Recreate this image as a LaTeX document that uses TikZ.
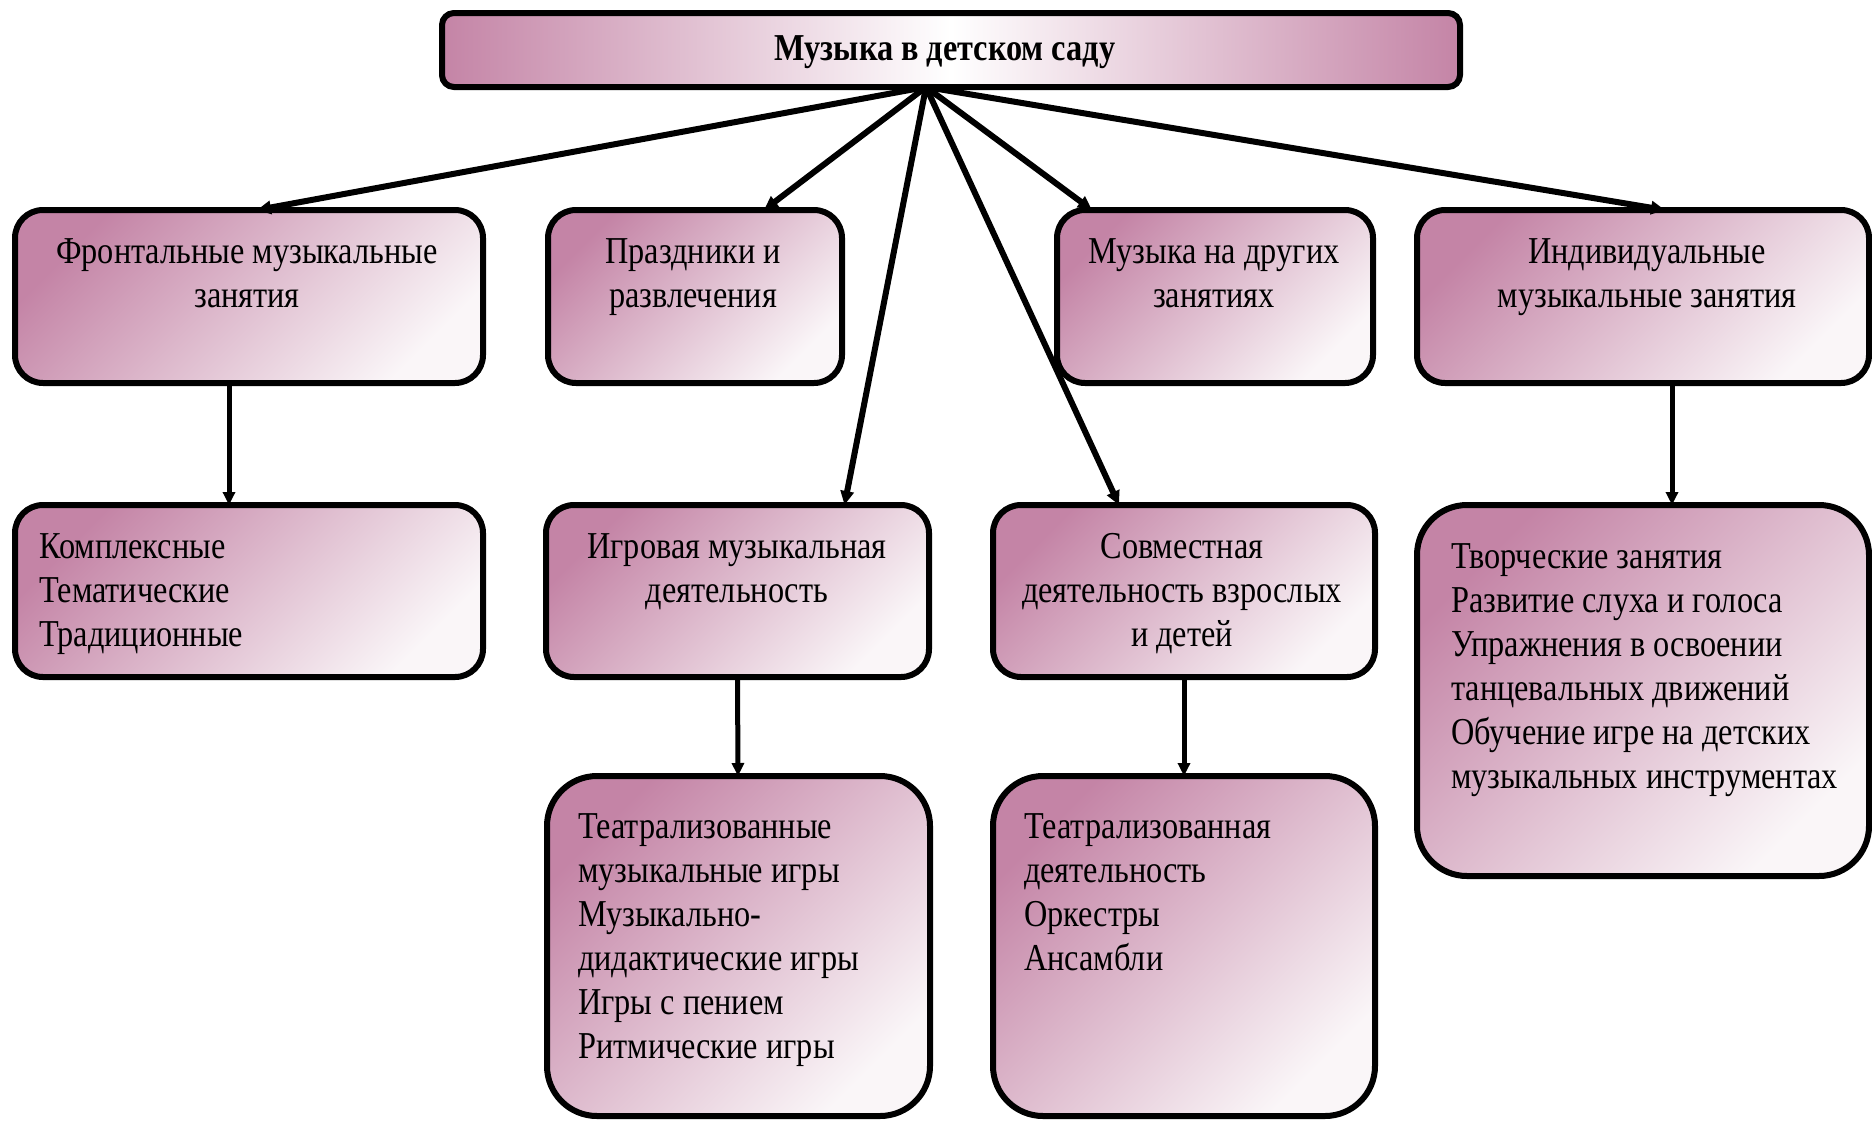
\documentclass[tikz,border=0pt]{standalone}
\usepackage{fontspec}
\setmainfont{Liberation Serif}[FakeStretch=0.85]
\usetikzlibrary{arrows.meta}
\definecolor{pinkc}{RGB}{196,132,166}
\definecolor{endc}{RGB}{250,246,248}
\tikzset{
  box/.style={draw=black, line width=6pt, rounded corners=28pt, top color=pinkc, bottom color=endc, shading angle=45, inner sep=0pt, outer sep=0pt},
  bigbox/.style={box, rounded corners=50pt},
  titlebox/.style={draw=black, line width=6pt, rounded corners=12pt, left color=pinkc, right color=pinkc, middle color=white, inner sep=0pt, outer sep=0pt},
  txt/.style={font=\fontsize{38}{44}\selectfont, inner sep=0pt, align=center},
  ltxt/.style={font=\fontsize{38}{44}\selectfont, inner sep=0pt, align=left, anchor=west},
  arr/.style={line width=6pt, -{Triangle[length=14pt,width=13pt]}},
  varr/.style={line width=5pt, -{Triangle[length=13pt,width=12pt]}}
}
\begin{document}
\begin{tikzpicture}[x=1pt,y=-1pt]
\useasboundingbox[fill=white] (0,0) rectangle (1872,1120);
% boxes
\node[titlebox, minimum width=1018pt, minimum height=74pt] (T) at (951,50) {};
\node[box, minimum width=468pt, minimum height=173pt] (A) at (249,296.5) {};
\node[box, minimum width=294pt, minimum height=173pt] (B) at (695,296.5) {};
\node[box, minimum width=316pt, minimum height=173pt] (C) at (1215,296.5) {};
\node[box, minimum width=452pt, minimum height=173pt] (D) at (1643,296.5) {};
\node[box, minimum width=468pt, minimum height=172pt] (E) at (249,591) {};
\node[box, minimum width=383pt, minimum height=172pt] (F) at (737.5,591) {};
\node[box, minimum width=382pt, minimum height=172pt] (G) at (1184,591) {};
\node[bigbox, minimum width=452pt, minimum height=371pt] (H) at (1643,690.5) {};
\node[bigbox, minimum width=383pt, minimum height=340pt] (I) at (738.5,946) {};
\node[bigbox, minimum width=382pt, minimum height=340pt] (J) at (1184,946) {};
% texts
\node[txt, font=\fontsize{38}{44}\selectfont\bfseries] (tT) at (945,52) {Музыка в детском саду};
\node[txt] (tA) at (247,273) {Фронтальные музыкальные\\занятия};
\node[txt] (tB) at (693,277) {Праздники и\\развлечения};
\node[txt] (tC) at (1214,273) {Музыка на других\\занятиях};
\node[txt] (tD) at (1647,277) {Индивидуальные\\музыкальные занятия};
\node[ltxt] (tE) at (39,594) {Комплексные\\Тематические\\Традиционные};
\node[txt] (tF) at (737,572) {Игровая музыкальная\\деятельность};
\node[txt] (tG) at (1182,594) {Совместная\\деятельность взрослых\\и детей};
\node[ltxt] (tH) at (1451,670) {Творческие занятия\\Развитие слуха и голоса\\Упражнения в освоении\\танцевальных движений\\Обучение игре на детских\\музыкальных инструментах};
\node[ltxt] (tI) at (578,940) {Театрализованные\\музыкальные игры\\Музыкально-\\дидактические игры\\Игры с пением\\Ритмические игры};
\node[ltxt] (tJ) at (1024,892) {Театрализованная\\деятельность\\Оркестры\\Ансамбли};
% connectors
\coordinate (hub) at ([xshift=-25pt]T.south);
\draw[arr] (hub) -- ([xshift=8pt]A.north);
\draw[arr] (hub) -- ([xshift=69pt]B.north);
\draw[arr] (hub) -- ([xshift=107pt]F.north);
\draw[arr] (hub) -- ([xshift=-65pt]G.north);
\draw[arr] (hub) -- ([xshift=-123pt]C.north);
\draw[arr] (hub) -- ([xshift=22pt]D.north);
\draw[varr] ([xshift=-20pt]A.south) -- ([xshift=-20pt]E.north);
\draw[varr] (F.south) -- ([xshift=-0.5pt]I.north);
\draw[varr] (G.south) -- (J.north);
\draw[varr] ([xshift=29pt]D.south) -- ([xshift=29pt]H.north);
\end{tikzpicture}
\end{document}
